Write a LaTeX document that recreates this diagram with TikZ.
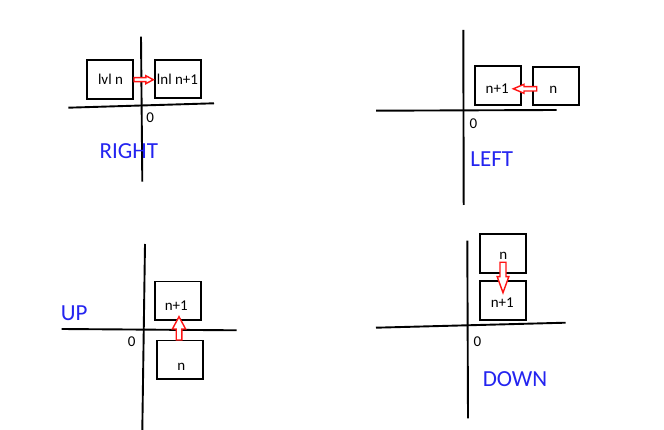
\documentclass[tikz,border=0pt]{standalone}
\usepackage{fontspec}
\setmainfont{Carlito}
\usetikzlibrary{calc}
\definecolor{labelblue}{RGB}{36,36,240}
\definecolor{arrowred}{RGB}{255,20,20}
\tikzset{
  axisline/.style={line width=1.9pt, black},
  boxnode/.style={draw, line width=1.9pt, minimum width=46pt, minimum height=38.5pt, inner sep=0pt},
  boxtext/.style={anchor=base, inner sep=0pt, font=\fontsize{15}{17}\selectfont},
  zerotext/.style={anchor=base, inner sep=0pt, font=\fontsize{15}{17}\selectfont},
  dirtext/.style={anchor=base, inner sep=0pt, text=labelblue, font=\fontsize{23}{26}\selectfont},
  blockarrow/.style n args={3}{draw=arrowred, line width=1.4pt, fill=white, line join=miter,
    to path={
      ($(\tikztostart)!#1!90:(\tikztotarget)$)
      -- ($(\tikztotarget)!#3!(\tikztostart)!#1!-90:(\tikztostart)$)
      -- ($(\tikztotarget)!#3!(\tikztostart)!#2!-90:(\tikztostart)$)
      -- (\tikztotarget)
      -- ($(\tikztotarget)!#3!(\tikztostart)!#2!90:(\tikztostart)$)
      -- ($(\tikztotarget)!#3!(\tikztostart)!#1!90:(\tikztostart)$)
      -- ($(\tikztostart)!#1!-90:(\tikztotarget)$)
      -- cycle}}
}
\begin{document}
\begin{tikzpicture}[x=1pt, y=-1pt]
\useasboundingbox[fill=white] (0,0) rectangle (664,430);

% ---------- RIGHT ----------
\coordinate (rvt) at (141,36.7);
\coordinate (rvb) at (142.3,181.7);
\coordinate (rhl) at (68.3,107.7);
\coordinate (rhr) at (214,103.3);
\draw[axisline] (rvt) -- (rvb);
\draw[axisline] (rhl) -- (rhr);
\node[boxnode] (r1) at (109.9,79.7) {};
\node[boxnode] (r2) at (177.8,78.9) {};
\node[boxtext] (r1t) at (110.5,85) {lvl n};
\node[boxtext] (r2t) at (177.5,85) {lnl n+1};
\coordinate (ras) at (134,79.7);
\coordinate (rae) at (153.3,79.7);
\draw[blockarrow={2pt}{4pt}{7.5pt}] (ras) to (rae);
\node[zerotext] (r0) at (150.2,122.3) {0};
\node[dirtext] (rlab) at (128.8,158.3) {RIGHT};

% ---------- LEFT ----------
\coordinate (lvt) at (463.3,30);
\coordinate (lvb) at (463.7,205);
\coordinate (lhl) at (376,110.7);
\coordinate (lhr) at (556.7,110);
\draw[axisline] (lvt) -- (lvb);
\draw[axisline] (lhl) -- (lhr);
\node[boxnode] (l1) at (498.2,85.7) {};
\node[boxnode] (l2) at (556.2,85.9) {};
\node[boxtext] (l1t) at (497.2,93.3) {n+1};
\node[boxtext] (l2t) at (553.3,93.6) {n};
\coordinate (las) at (536.7,88.8);
\coordinate (lae) at (513.3,88.8);
\draw[blockarrow={2.2pt}{4.5pt}{10.7pt}] (las) to (lae);
\node[zerotext] (l0) at (473.3,129) {0};
\node[dirtext] (llab) at (491.7,166.7) {LEFT};

% ---------- UP ----------
\coordinate (uvt) at (145,244);
\coordinate (uvb) at (142.3,430);
\coordinate (uhl) at (61.7,329);
\coordinate (uhr) at (236.7,330.3);
\draw[axisline] (uvt) -- (uvb);
\draw[axisline] (uhl) -- (uhr);
\node[boxnode] (u1) at (178.2,300.8) {};
\node[boxnode] (u2) at (180,359.7) {};
\node[boxtext] (u1t) at (176.3,311) {n+1};
\node[boxtext] (u2t) at (181.3,370.7) {n};
\coordinate (uas) at (179,340);
\coordinate (uae) at (179,316.7);
\draw[blockarrow={2.8pt}{6.6pt}{12.3pt}] (uas) to (uae);
\node[zerotext] (u0) at (131.7,346) {0};
\node[dirtext] (ulab) at (74.2,320) {UP};

% ---------- DOWN ----------
\coordinate (dvt) at (467.3,240.7);
\coordinate (dvb) at (468,418.3);
\coordinate (dhl) at (376,327.7);
\coordinate (dhr) at (565.7,322.7);
\draw[axisline] (dvt) -- (dvb);
\draw[axisline] (dhl) -- (dhr);
\node[boxnode] (d1) at (502.8,253.7) {};
\node[boxnode] (d2) at (502.8,300.7) {};
\node[boxtext] (d1t) at (503.3,259.3) {n};
\node[boxtext] (d2t) at (502.3,307.3) {n+1};
\coordinate (das) at (503,262.3);
\coordinate (dae) at (503,292.7);
\draw[blockarrow={3pt}{5.8pt}{16pt}] (das) to (dae);
\node[zerotext] (d0) at (477.5,346.7) {0};
\node[dirtext] (dlab) at (515,386) {DOWN};
\end{tikzpicture}
\end{document}
